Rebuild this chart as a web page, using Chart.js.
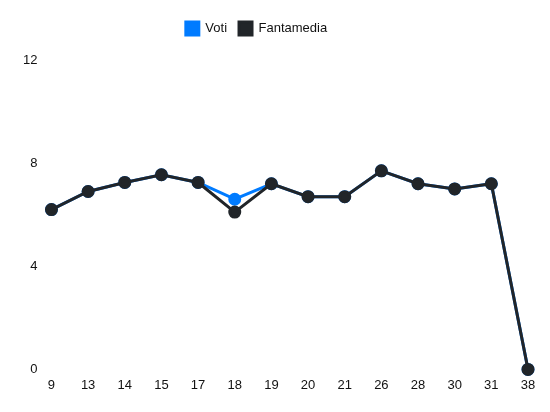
<!DOCTYPE html>
<html>
<head>
<meta charset="utf-8">
<script src="https://cdn.jsdelivr.net/npm/chart.js@4/dist/chart.umd.min.js"></script>
<style>
  html, body { margin: 0; padding: 0; background: #fff; }
  #wrap { width: 550px; height: 412px; }
</style>
</head>
<body>
<div id="wrap"><canvas id="chart"></canvas></div>
<script>
const giornate = ['9', '13', '14', '15', '17', '18', '19', '20', '21', '26', '28', '30', '31', '38'];
const voti = [6.2, 6.9, 7.25, 7.55, 7.25, 6.6, 7.2, 6.7, 6.7, 7.7, 7.2, 7.0, 7.2, 0];
const fantamedia = [6.2, 6.9, 7.25, 7.55, 7.25, 6.1, 7.2, 6.7, 6.7, 7.7, 7.2, 7.0, 7.2, 0];
const yTicks = [0, 4, 8, 12];

Chart.defaults.font.family = '"Liberation Sans", Arial, sans-serif';
Chart.defaults.font.size = 13;
Chart.defaults.color = '#111';

// extra room under the legend, and nudge it a bit to the left
const legendTweak = {
  id: 'legendTweak',
  beforeInit(chart) {
    const fit = chart.legend.fit;
    chart.legend.fit = function () { fit.call(this); this.height += 15; };
  },
  afterLayout(chart) {
    chart.legend.left -= 16;
    chart.legend.right -= 16;
  }
};

new Chart(document.getElementById('chart'), {
  type: 'line',
  data: {
    labels: giornate,
    datasets: [
      { label: 'Voti', data: voti, borderColor: '#007bff', backgroundColor: '#007bff', borderWidth: 3, pointRadius: 5, tension: 0, clip: false, order: 1 },
      { label: 'Fantamedia', data: fantamedia, borderColor: '#212529', backgroundColor: '#212529', borderWidth: 3, pointRadius: 5, tension: 0, clip: false, order: 0 }
    ]
  },
  options: {
    responsive: true,
    maintainAspectRatio: false,
    animation: false,
    layout: { padding: { left: 17, right: 22, top: 10, bottom: 19 } },
    plugins: {
      legend: {
        position: 'top',
        labels: { boxWidth: 13, boxHeight: 13, padding: 12, sort: (a, b) => a.datasetIndex - b.datasetIndex }
      },
      tooltip: { enabled: false }
    },
    scales: {
      x: { grid: { display: false }, border: { display: false }, ticks: { padding: 0 } },
      y: {
        min: 0, max: 12,
        grid: { display: false }, border: { display: false },
        afterBuildTicks: (s) => { s.ticks = yTicks.map(v => ({ value: v })); },
        ticks: { padding: 6 }
      }
    }
  },
  plugins: [legendTweak]
});
</script>
</body>
</html>
